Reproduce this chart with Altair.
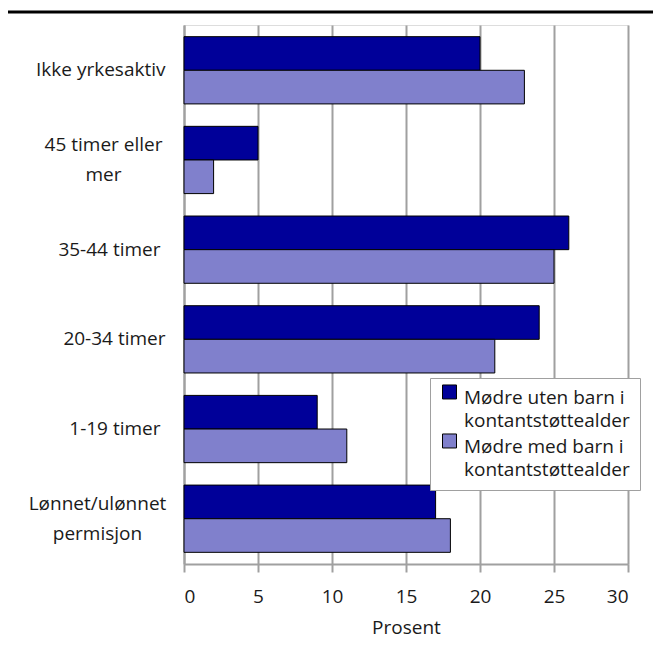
import altair as alt
import pandas as pd

categories = ["Ikke yrkesaktiv", "45 timer eller mer", "35-44 timer", "20-34 timer",
              "1-19 timer", "Lønnet/ulønnet permisjon"]
series = ["Mødre uten barn i kontantstøttealder", "Mødre med barn i kontantstøttealder"]
uten_barn = [20, 5, 26, 24, 9, 17]
med_barn = [23, 2, 25, 21, 11, 18]
colors = ["#000099", "#8080cc"]

rows = []
for c, a, b in zip(categories, uten_barn, med_barn):
    rows.append({"kategori": c, "serie": series[0], "prosent": a})
    rows.append({"kategori": c, "serie": series[1], "prosent": b})
df = pd.DataFrame(rows)

FONT = "Open Sans"
TXT = "#1a1a1a"
GRID = "#a0a0a0"

label_expr = ("datum.label == '45 timer eller mer' ? ['45 timer eller', 'mer'] : "
              "datum.label == 'Lønnet/ulønnet permisjon' ? ['Lønnet/ulønnet', 'permisjon'] : datum.label")
is_45 = "datum.value == '45 timer eller mer'"
is_perm = "datum.value == 'Lønnet/ulønnet permisjon'"
is_multi = f"{is_45} || {is_perm}"
is_trail = "datum.value == '35-44 timer' || datum.value == '1-19 timer'"

bars = alt.Chart(df).mark_bar(stroke="black", strokeWidth=1).encode(
    x=alt.X("prosent:Q",
            scale=alt.Scale(domain=[0, 30], nice=False),
            axis=alt.Axis(values=[0, 5, 10, 15, 20, 25, 30], title="Prosent",
                          grid=True, gridColor=GRID, gridWidth=2,
                          domainColor=GRID, domainWidth=2,
                          tickColor=GRID, tickWidth=2, tickSize=8,
                          labelFont=FONT, labelFontSize=19, labelColor=TXT,
                          labelPadding=15,
                          titleFont=FONT, titleFontSize=19, titleFontWeight="normal",
                          titleColor=TXT, titlePadding=12)),
    y=alt.Y("kategori:N", sort=categories,
            scale=alt.Scale(paddingInner=0.25, paddingOuter=0.13),
            axis=alt.Axis(title=None, ticks=False, domainColor=GRID, domainWidth=2,
                          labelFont=FONT, labelFontSize=19, labelColor=TXT,
                          labelAlign={"condition": {"test": is_multi, "value": "center"},
                                      "value": "right"},
                          labelBaseline="middle",
                          labelPadding={"condition": [
                              {"test": is_45, "value": 81},
                              {"test": is_perm, "value": 87},
                              {"test": is_trail, "value": 24}],
                              "value": 19},
                          labelOffset={"condition": {"test": is_multi, "value": -15},
                                       "value": 0},
                          labelLineHeight=30,
                          labelExpr=label_expr)),
    yOffset=alt.YOffset("serie:N", sort=series),
    color=alt.Color("serie:N", sort=series,
                    scale=alt.Scale(domain=series, range=colors),
                    legend=alt.Legend(title=None, orient="none", legendX=246, legendY=353,
                                      direction="vertical",
                                      fillColor="white", strokeColor=GRID,
                                      padding=10,
                                      symbolType="M-1,-1.79H1V0.21H-1Z",
                                      symbolSize=196, symbolStrokeColor="black",
                                      symbolStrokeWidth=1, symbolOpacity=1,
                                      labelFont=FONT, labelFontSize=19, labelColor=TXT,
                                      labelLimit=300, labelOffset=5, rowPadding=0,
                                      labelExpr="split(replace(datum.label, ' barn i ', ' barn i|'), '|')")),
)

top_line = alt.Chart(pd.DataFrame({"k": [0]})).mark_rule(color="black", strokeWidth=3).encode(
    x=alt.value(-177), x2=alt.value(480), y=alt.value(-13)
)

chart = alt.layer(bars, top_line).properties(
    width=444, height=539,
    padding={"left": 176, "top": 17, "right": 25, "bottom": 78},
    autosize=alt.AutoSizeParams(type="none"),
).configure_view(stroke=None).configure(
    style={"guide-label": {"lineHeight": 23.5}}
)

chart.save("out.html", embed_options={"renderer": "svg", "actions": False})
